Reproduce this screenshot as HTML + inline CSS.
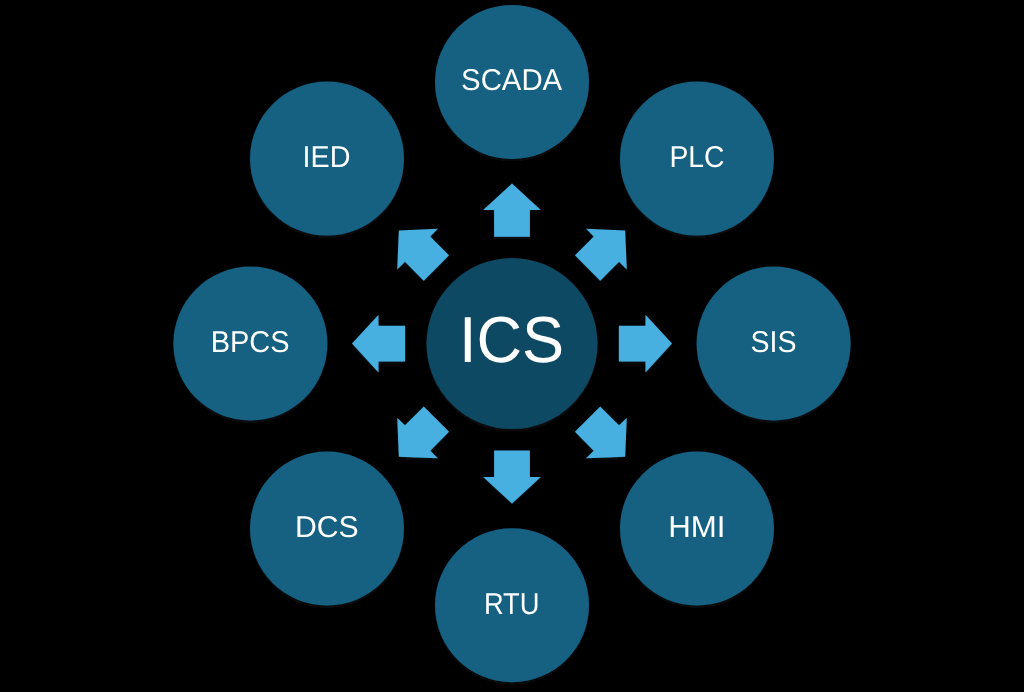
<!DOCTYPE html>
<html><head><meta charset="utf-8"><style>
html,body{margin:0;padding:0;background:#000;}
body{width:1024px;height:692px;overflow:hidden;}
svg{display:block;font-family:"Liberation Sans",sans-serif;}
</style></head><body>
<svg width="1024" height="692" viewBox="0 0 1024 692">
<defs><filter id="sh" x="-10%" y="-10%" width="120%" height="125%"><feDropShadow dx="0" dy="2.5" stdDeviation="2.5" flood-color="#0b1114" flood-opacity="0.7"/></filter></defs>
<rect width="1024" height="692" fill="#000"/>
<g filter="url(#sh)">
<circle cx="512.00" cy="82.00" r="77" fill="#156082"/>
<text transform="translate(511.60 90.30) scale(0.9720 1.0000)" font-size="30.2" text-anchor="middle" fill="#ffffff" text-rendering="geometricPrecision">SCADA</text>
<circle cx="696.98" cy="158.62" r="77" fill="#156082"/>
<text transform="translate(696.98 167.32) scale(0.9390 1.0000)" font-size="30.2" text-anchor="middle" fill="#ffffff" text-rendering="geometricPrecision">PLC</text>
<circle cx="773.60" cy="343.60" r="77" fill="#156082"/>
<text transform="translate(773.50 352.10) scale(0.9450 1.0000)" font-size="30.2" text-anchor="middle" fill="#ffffff" text-rendering="geometricPrecision">SIS</text>
<circle cx="696.98" cy="528.58" r="77" fill="#156082"/>
<text transform="translate(696.78 537.48) scale(1.0350 1.0000)" font-size="30.2" text-anchor="middle" fill="#ffffff" text-rendering="geometricPrecision">HMI</text>
<circle cx="512.00" cy="605.20" r="77" fill="#156082"/>
<text transform="translate(511.70 613.50) scale(0.9040 1.0000)" font-size="30.2" text-anchor="middle" fill="#ffffff" text-rendering="geometricPrecision">RTU</text>
<circle cx="327.02" cy="528.58" r="77" fill="#156082"/>
<text transform="translate(326.92 536.88) scale(0.9980 1.0000)" font-size="30.2" text-anchor="middle" fill="#ffffff" text-rendering="geometricPrecision">DCS</text>
<circle cx="250.40" cy="343.60" r="77" fill="#156082"/>
<text transform="translate(250.10 352.30) scale(0.9590 1.0000)" font-size="30.2" text-anchor="middle" fill="#ffffff" text-rendering="geometricPrecision">BPCS</text>
<circle cx="327.02" cy="158.62" r="77" fill="#156082"/>
<text transform="translate(326.52 167.12) scale(0.9510 1.0000)" font-size="30.2" text-anchor="middle" fill="#ffffff" text-rendering="geometricPrecision">IED</text>
<circle cx="512" cy="343.6" r="85.5" fill="#104862"/>
<text transform="translate(511.50 362.30) scale(0.9708 1.0000)" font-size="65" text-anchor="middle" fill="#ffffff" text-rendering="geometricPrecision">ICS</text>
<path d="M494.10,236.70 L494.10,210.10 L483.20,210.10 L512.00,183.60 L540.80,210.10 L529.90,210.10 L529.90,236.70 Z" fill="#46b0e1" transform="rotate(0 512 343.6)"/>
<path d="M494.10,236.70 L494.10,210.10 L483.20,210.10 L512.00,183.60 L540.80,210.10 L529.90,210.10 L529.90,236.70 Z" fill="#46b0e1" transform="rotate(45 512 343.6)"/>
<path d="M494.10,236.70 L494.10,210.10 L483.20,210.10 L512.00,183.60 L540.80,210.10 L529.90,210.10 L529.90,236.70 Z" fill="#46b0e1" transform="rotate(90 512 343.6)"/>
<path d="M494.10,236.70 L494.10,210.10 L483.20,210.10 L512.00,183.60 L540.80,210.10 L529.90,210.10 L529.90,236.70 Z" fill="#46b0e1" transform="rotate(135 512 343.6)"/>
<path d="M494.10,236.70 L494.10,210.10 L483.20,210.10 L512.00,183.60 L540.80,210.10 L529.90,210.10 L529.90,236.70 Z" fill="#46b0e1" transform="rotate(180 512 343.6)"/>
<path d="M494.10,236.70 L494.10,210.10 L483.20,210.10 L512.00,183.60 L540.80,210.10 L529.90,210.10 L529.90,236.70 Z" fill="#46b0e1" transform="rotate(225 512 343.6)"/>
<path d="M494.10,236.70 L494.10,210.10 L483.20,210.10 L512.00,183.60 L540.80,210.10 L529.90,210.10 L529.90,236.70 Z" fill="#46b0e1" transform="rotate(270 512 343.6)"/>
<path d="M494.10,236.70 L494.10,210.10 L483.20,210.10 L512.00,183.60 L540.80,210.10 L529.90,210.10 L529.90,236.70 Z" fill="#46b0e1" transform="rotate(315 512 343.6)"/>
</g>
</svg>
</body></html>
